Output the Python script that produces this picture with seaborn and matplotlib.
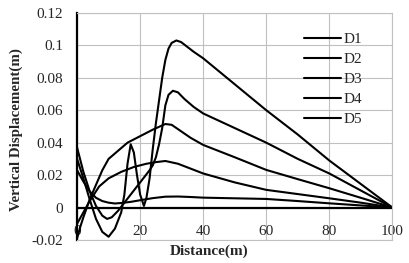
import numpy as np
import pandas as pd
import matplotlib
matplotlib.use('Agg')
import matplotlib.pyplot as plt
import seaborn as sns

# values
d1_x = [0, 2, 4, 6, 8, 10, 12, 13, 14, 15, 16, 17, 18, 19, 20, 21.2, 22, 23, 24, 25, 26, 27, 28, 29, 30, 31.5, 33, 35, 37, 40, 50, 60, 70, 80, 90, 100]
d1_y = [0.030, 0.018, 0.005, -0.007, -0.015, -0.018, -0.013, -0.008, -0.003, 0.008, 0.027, 0.039, 0.034, 0.020, 0.008, 0.001, 0.006, 0.018, 0.036, 0.052, 0.066, 0.080, 0.091, 0.098, 0.1015, 0.103, 0.102, 0.099, 0.096, 0.092, 0.076, 0.060, 0.045, 0.029, 0.0145, 0.0]

d2_x = [0, 2, 4, 6, 8, 9.5, 11, 13, 15, 17, 19, 21, 23, 24, 25, 26, 27, 28, 29, 30.4, 32, 34, 37, 40, 50, 60, 70, 80, 90, 100]
d2_y = [0.037, 0.022, 0.010, 0.001, -0.005, -0.007, -0.006, -0.002, 0.003, 0.008, 0.013, 0.018, 0.023, 0.026, 0.031, 0.039, 0.049, 0.063, 0.0695, 0.072, 0.071, 0.067, 0.062, 0.058, 0.049, 0.040, 0.030, 0.021, 0.0105, 0.0]

d3_x = [0, 1, 2, 4, 6, 8, 10, 13, 16, 20, 24, 28, 30, 33, 36, 40, 50, 60, 70, 80, 90, 100]
d3_y = [-0.019, -0.012, -0.006, 0.005, 0.014, 0.023, 0.030, 0.035, 0.040, 0.044, 0.048, 0.0515, 0.051, 0.047, 0.043, 0.0386, 0.031, 0.0232, 0.0175, 0.0119, 0.006, 0.0]

d4_x = [0, 2, 4, 7, 10, 14, 18, 22, 25, 28, 32, 36, 40, 50, 60, 70, 80, 90, 100]
d4_y = [-0.010, -0.003, 0.004, 0.013, 0.018, 0.022, 0.025, 0.027, 0.028, 0.0287, 0.027, 0.024, 0.021, 0.0155, 0.0109, 0.0083, 0.0057, 0.003, 0.0]

d5_x = [0, 2, 4, 6, 8, 10, 12, 14, 17, 20, 24, 28, 32, 36, 40, 50, 60, 70, 80, 90, 100]
d5_y = [0.023, 0.016, 0.010, 0.006, 0.004, 0.003, 0.0025, 0.0028, 0.0035, 0.0045, 0.0058, 0.0067, 0.0068, 0.0065, 0.0061, 0.0057, 0.0053, 0.004, 0.0026, 0.0013, 0.0]

series = ['D1', 'D2', 'D3', 'D4', 'D5']
xs = [d1_x, d2_x, d3_x, d4_x, d5_x]
ys = [d1_y, d2_y, d3_y, d4_y, d5_y]

x_ticks = [0, 20, 40, 60, 80, 100]
y_ticks = [-0.02, 0, 0.02, 0.04, 0.06, 0.08, 0.1, 0.12]
y_tick_labels = ['-0.02', '0', '0.02', '0.04', '0.06', '0.08', '0.1', '0.12']

frames = [pd.DataFrame({'x': x, 'y': y, 'series': s}) for s, x, y in zip(series, xs, ys)]
df = pd.concat(frames, ignore_index=True)

sns.set_style('white')
plt.rcParams['font.family'] = ['Liberation Serif', 'DejaVu Serif']

fig = plt.figure(figsize=(4.10, 2.63), dpi=100)
ax = fig.add_axes([0.188, 0.0875, 0.769, 0.8635])

sns.lineplot(data=df, x='x', y='y', hue='series', palette=['black'] * 5,
             sort=False, estimator=None, linewidth=1.5, ax=ax)

ax.set_xlim(0, 100)
ax.set_ylim(-0.02, 0.12)
ax.set_xticks(x_ticks)
ax.set_yticks(y_ticks)
ax.set_yticklabels(y_tick_labels)
ax.grid(True, color='#c0c0c0', linewidth=0.8)
ax.set_axisbelow(True)
ax.axhline(0, color='black', linewidth=1.6, zorder=1.5)

for side in ['top', 'right', 'bottom']:
    ax.spines[side].set_color('#c0c0c0')
    ax.spines[side].set_linewidth(0.8)
ax.spines['left'].set_color('black')
ax.spines['left'].set_linewidth(1.6)

ax.tick_params(axis='x', length=0, pad=-11, labelsize=11)
ax.tick_params(axis='y', length=0, pad=10, labelsize=11)

ax.set_xlabel('Distance(m)', fontsize=11, fontweight='bold')
ax.xaxis.set_label_coords(0.42, -0.018)
ax.set_ylabel('Vertical Displacement(m)', fontsize=10.8, fontweight='bold')
ax.yaxis.set_label_coords(-0.17, 0.485)

ax.legend(loc='upper left', bbox_to_anchor=(0.72, 0.913), frameon=False,
          fontsize=11, handlelength=2.4, handletextpad=0.2, labelspacing=0.41,
          borderaxespad=0, borderpad=0)

fig.savefig('out.png', dpi=100)
